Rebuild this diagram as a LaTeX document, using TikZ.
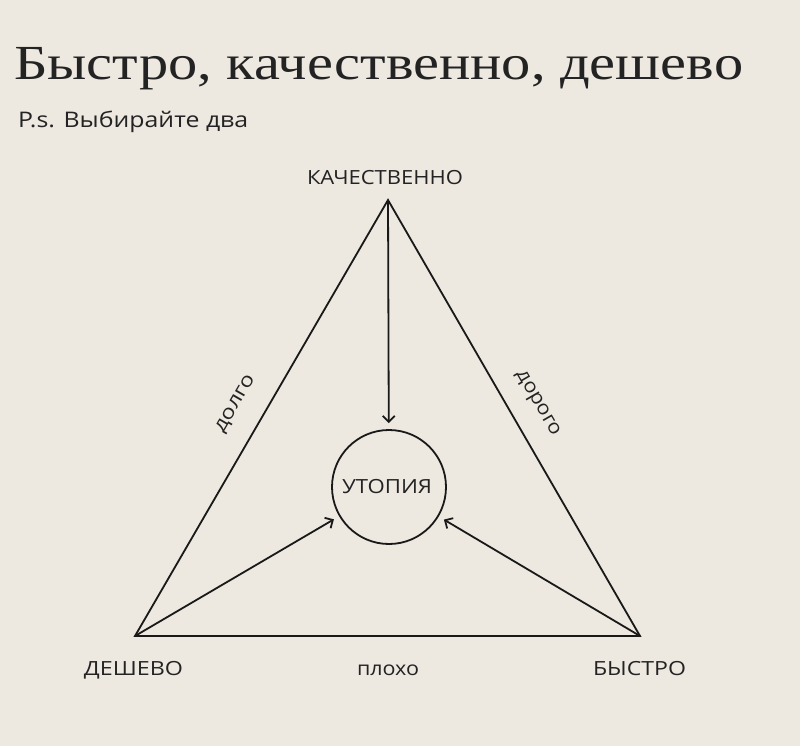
\documentclass[tikz,border=0pt]{standalone}
\usepackage{fontspec}
\setmainfont{Open Sans}
\newfontfamily\titlefont{Liberation Serif}
\usetikzlibrary{arrows.meta}
\definecolor{bg}{RGB}{237,232,224}
\definecolor{ink}{RGB}{25,25,25}
\definecolor{txt}{RGB}{35,35,35}
\tikzset{
  edge/.style={draw=ink, line width=1.8pt, line join=miter},
  arr/.style={draw=ink, line width=1.8pt, -{Straight Barb[length=6pt,width=12pt]}, shorten >=6pt},
  lbl/.style={inner sep=0pt, text=txt, font=\fontsize{19.5}{20}\selectfont},
}
\begin{document}
\begin{tikzpicture}[x=1pt,y=-1pt]
\fill[bg] (0,0) rectangle (800,746);
\useasboundingbox (0,0) rectangle (800,746);
% title
\node[anchor=base west, inner sep=0pt, text=txt] (title) at (14,80)
  {\resizebox{729pt}{\height}{\titlefont\fontsize{49}{49}\selectfont Быстро, качественно, дешево}};
\node[anchor=base west, inner sep=0pt, text=txt] (sub) at (18,127.5)
  {\resizebox{230pt}{\height}{\fontsize{21.5}{22}\selectfont P.s. Выбирайте два}};
% vertices
\coordinate (T) at (388,200);
\coordinate (L) at (135,636);
\coordinate (R) at (640,636);
% circle
\node[circle, draw=ink, line width=1.8pt, minimum size=114pt, inner sep=0pt] (U) at (389,487) {};
\node[lbl, anchor=base] (utop) at (387,493) {\resizebox{90pt}{\height}{УТОПИЯ}};
% triangle
\draw[edge] (T) -- (L) -- (R) -- cycle;
% arrows
\draw[arr] (T) -- (U);
\draw[arr] (L) -- (U);
\draw[arr] (R) -- (U);
% labels
\node[lbl, anchor=base] (kach) at (385,184) {\resizebox{156pt}{\height}{КАЧЕСТВЕННО}};
\node[lbl, anchor=base] (desh) at (133.5,675) {\resizebox{99pt}{\height}{ДЕШЕВО}};
\node[lbl, anchor=base] (byst) at (639.5,675) {\resizebox{93pt}{\height}{БЫСТРО}};
\node[lbl, anchor=base] (ploh) at (388,675) {\resizebox{62pt}{\height}{плохо}};
\node[lbl, rotate=60] (dolgo) at (236,404) {\resizebox{64pt}{\height}{долго}};
\node[lbl, rotate=-60] (dorogo) at (537,404) {\resizebox{73pt}{\height}{дорого}};
\end{tikzpicture}
\end{document}
